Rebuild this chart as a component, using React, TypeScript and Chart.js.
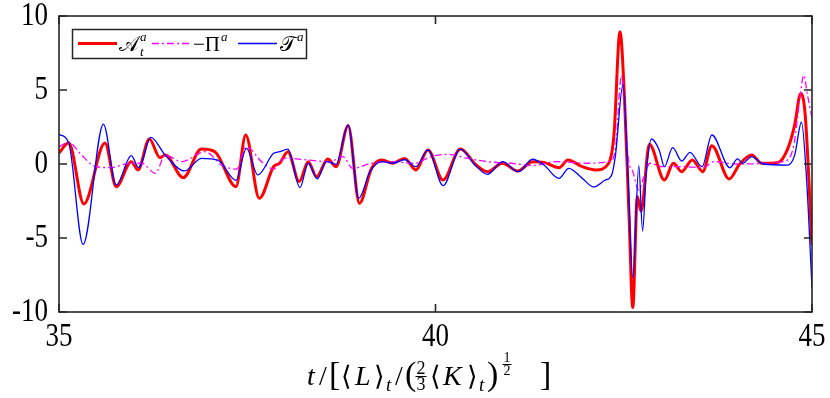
import React, { useEffect, useRef } from "react";
import { Chart, registerables } from "chart.js";
Chart.register(...registerables);

// ---- data ----
const xTicks = [35, 40, 45];
const yTicks = [-10, -5, 0, 5, 10];

const tA = [35.0, 35.13, 35.33, 35.61, 35.76, 35.96, 36.05, 36.2, 36.34, 36.41, 36.65, 36.89, 37.07, 37.35, 37.48, 37.66, 37.85, 37.93, 38.04, 38.19, 38.31, 38.42, 38.57, 38.68, 38.84, 38.99, 39.15, 39.29, 39.43, 39.59, 39.74, 39.9, 40.1, 40.33, 40.54, 40.69, 40.89, 41.09, 41.29, 41.44, 41.64, 41.76, 41.95, 42.13, 42.3, 42.37, 42.45, 42.51, 42.57, 42.62, 42.68, 42.73, 42.84, 43.04, 43.16, 43.27, 43.41, 43.55, 43.67, 43.9, 44.04, 44.2, 44.33, 44.55, 44.68, 44.77, 44.85, 44.91, 45.0];
const A = [0.74, 1.44, -2.7, 1.42, -1.53, 0.16, -0.4, 1.69, 0.43, 0.6, -0.92, 1.01, 0.83, -1.53, 1.96, -2.32, -0.18, 0.05, 0.83, -1.19, 0.16, -0.86, 0.34, -0.18, 2.59, -2.66, -0.3, 0.27, 0.05, 0.38, -0.4, 0.95, -1.08, 1.01, -0.07, -0.52, 0.05, -0.47, 0.16, 0.11, -0.25, 0.27, -0.18, -0.4, 0.05, 1.96, 8.94, 4.44, -3.45, -9.7, -2.2, -3.2, 1.33, -1.08, 0.05, -0.52, 0.27, -0.52, 1.24, -1.01, 0.0, 0.61, 0.05, 0.11, 1.06, 2.64, 4.77, 3.3, -5.47];

const tP = [35.0, 35.13, 35.28, 35.46, 35.68, 35.95, 36.1, 36.28, 36.41, 36.63, 36.94, 37.16, 37.36, 37.49, 37.69, 37.85, 38.0, 38.3, 38.6, 38.77, 38.9, 39.15, 39.4, 39.72, 39.94, 40.16, 40.43, 40.69, 41.0, 41.3, 41.6, 42.0, 42.32, 42.39, 42.47, 42.52, 42.56, 42.62, 42.7, 42.76, 42.85, 43.0, 43.3, 43.55, 43.7, 44.0, 44.61, 44.75, 44.84, 44.89, 44.94, 45.0];
const P = [1.17, 1.47, 0.72, -0.11, -0.25, 0.05, 0.05, -0.63, 0.6, 0.16, 0.83, -0.07, -0.34, 1.17, 0.16, -0.34, 0.4, 0.27, 0.16, 0.5, -0.3, 0.05, 0.16, 0.05, 0.5, 0.65, 0.38, 0.16, 0.05, -0.1, 0.16, 0.05, 0.2, 1.06, 5.97, 3.3, 0.38, -0.5, -1.76, -0.97, 0.05, -0.18, -0.18, -0.25, 0.16, 0.0, 0.16, 1.06, 4.44, 6.0, 4.66, 3.1];

const tT = [35.0, 35.13, 35.32, 35.59, 35.76, 35.96, 36.06, 36.22, 36.41, 36.67, 36.89, 37.11, 37.35, 37.49, 37.64, 37.85, 37.93, 38.04, 38.2, 38.31, 38.43, 38.55, 38.68, 38.84, 38.98, 39.13, 39.29, 39.43, 39.59, 39.74, 39.9, 40.1, 40.33, 40.54, 40.69, 40.89, 41.1, 41.29, 41.44, 41.64, 41.77, 41.95, 42.1, 42.25, 42.34, 42.39, 42.49, 42.55, 42.62, 42.7, 42.75, 42.8, 42.87, 42.97, 43.04, 43.15, 43.27, 43.38, 43.54, 43.67, 43.91, 44.01, 44.08, 44.2, 44.35, 44.68, 44.77, 44.86, 44.93, 45.0];
const T = [2.0, 1.4, -5.43, 2.7, -1.42, 0.56, -0.25, 1.8, 0.6, -0.47, 0.38, 0.27, -1.1, 1.06, -0.74, 0.72, 0.83, 1.01, -1.6, 0.05, -1.01, 0.16, -0.02, 2.64, -2.32, -0.52, 0.16, 0.05, 0.3, -0.18, 0.95, -1.46, 1.0, -0.15, -0.7, 0.16, -0.52, 0.32, -0.07, -0.97, -0.29, -0.97, -1.55, -1.1, -0.74, 0.6, 5.38, -0.07, -7.7, -0.11, -4.53, -0.5, 1.69, 0.95, -0.18, 1.1, 0.2, 0.79, -0.18, 1.96, -0.25, 0.34, 0.05, 0.5, 0.0, -0.07, 0.6, 2.82, -1.2, -8.4];

const seriesColors = ["#ff0000", "#ff00ff", "#0000ff"];

const SERIF = '"Liberation Serif", "Times New Roman", Tinos, "DejaVu Serif", serif';
const AXIS = "#262626";

function pts(xs: number[], ys: number[]) {
  return xs.map((x, i) => ({ x, y: ys[i] }));
}

function setFont(ctx: CanvasRenderingContext2D, size: number, italic?: boolean) {
  ctx.font = `${italic ? "italic " : ""}${size}px ${SERIF}`;
}

// text drawn slightly stretched vertically, like the reference's tall serif digits
function tallText(ctx: CanvasRenderingContext2D, text: string, x: number, y: number, size: number, align: CanvasTextAlign, baseline: CanvasTextBaseline) {
  ctx.save();
  ctx.translate(x, y);
  ctx.scale(0.9, 1.12);
  setFont(ctx, size);
  ctx.textAlign = align;
  ctx.textBaseline = baseline;
  ctx.fillText(text, 0, 0);
  ctx.restore();
}

type Run = { t?: string; frac?: [string, string]; size: number; it?: boolean; dy?: number; x: number };

const framePlugin = {
  id: "frame",
  afterDatasetsDraw(chart: any) {
    const { ctx, chartArea } = chart;
    const { left, right, top, bottom } = chartArea;
    const xs = chart.scales.x;
    const ys = chart.scales.y;
    ctx.save();
    ctx.strokeStyle = AXIS;
    ctx.lineWidth = 1.6;
    ctx.strokeRect(left, top, right - left, bottom - top);
    const tl = 8;
    ctx.beginPath();
    xTicks.forEach((v) => {
      const px = xs.getPixelForValue(v);
      ctx.moveTo(px, bottom);
      ctx.lineTo(px, bottom - tl);
      ctx.moveTo(px, top);
      ctx.lineTo(px, top + tl);
    });
    yTicks.forEach((v) => {
      const py = ys.getPixelForValue(v);
      ctx.moveTo(left, py);
      ctx.lineTo(left + tl, py);
      ctx.moveTo(right, py);
      ctx.lineTo(right - tl, py);
    });
    ctx.stroke();

    // tick labels
    ctx.fillStyle = "#000";
    yTicks.forEach((v) => {
      tallText(ctx, String(v), left - 11, ys.getPixelForValue(v), 30, "right", "middle");
    });
    xTicks.forEach((v) => {
      tallText(ctx, String(v), xs.getPixelForValue(v), bottom + 8, 30, "center", "top");
    });

    // legend
    const bx = 72, by = 29, bw = 234, bh = 29;
    ctx.fillStyle = "#fff";
    ctx.fillRect(bx, by, bw, bh);
    ctx.lineWidth = 1.5;
    ctx.strokeStyle = AXIS;
    ctx.strokeRect(bx + 0.5, by + 0.5, bw, bh);
    const ly = 43.5;
    ctx.lineWidth = 3;
    ctx.strokeStyle = seriesColors[0];
    ctx.beginPath(); ctx.moveTo(78, ly); ctx.lineTo(117, ly); ctx.stroke();
    ctx.lineWidth = 1.3;
    ctx.strokeStyle = seriesColors[1];
    ctx.setLineDash([7, 3, 2, 3]);
    ctx.beginPath(); ctx.moveTo(152, ly); ctx.lineTo(190, ly); ctx.stroke();
    ctx.setLineDash([]);
    ctx.strokeStyle = seriesColors[2];
    ctx.beginPath(); ctx.moveTo(238, ly); ctx.lineTo(277, ly); ctx.stroke();

    ctx.fillStyle = "#000";
    ctx.textAlign = "left";
    ctx.textBaseline = "alphabetic";
    const lb = 51;
    setFont(ctx, 21, false);
    ctx.fillText("𝒜", 119, lb);
    let w = ctx.measureText("𝒜").width;
    setFont(ctx, 13, true);
    ctx.fillText("a", 119 + w + 1, lb - 10);
    ctx.fillText("t", 119 + w + 1, lb + 5);

    setFont(ctx, 21, false);
    ctx.fillText("−Π", 193, lb);
    w = ctx.measureText("−Π").width;
    setFont(ctx, 13, true);
    ctx.fillText("a", 193 + w + 1, lb - 10);

    setFont(ctx, 21, false);
    ctx.fillText("𝒯", 280, lb);
    w = ctx.measureText("𝒯").width;
    setFont(ctx, 13, true);
    ctx.fillText("a", 280 + w + 1, lb - 10);

    // x axis title
    const base = 385;
    const runs: Run[] = [
      { t: "t", size: 28, it: true, x: 307 },
      { t: "/", size: 28, x: 319 },
      { t: "[", size: 34, x: 329 },
      { t: "⟨", size: 27, x: 341 },
      { t: "L", size: 28, it: true, x: 355 },
      { t: "⟩", size: 27, x: 374 },
      { t: "t", size: 19, it: true, dy: 6, x: 386 },
      { t: "/", size: 28, x: 395 },
      { t: "(", size: 34, x: 405 },
      { frac: ["2", "3"], size: 18, x: 421 },
      { t: "⟨", size: 27, x: 430 },
      { t: "K", size: 28, it: true, x: 443 },
      { t: "⟩", size: 27, x: 467 },
      { t: "t", size: 19, it: true, dy: 6, x: 479 },
      { t: ")", size: 34, x: 487 },
      { frac: ["1", "2"], size: 14, dy: -12, x: 507 },
      { t: "]", size: 34, x: 540 },
    ];
    ctx.fillStyle = "#000";
    ctx.strokeStyle = "#000";
    runs.forEach((r) => {
      const y = base + (r.dy || 0);
      if (r.frac) {
        setFont(ctx, r.size);
        const cy = y - 9;
        const fw = Math.max(ctx.measureText(r.frac[0]).width, ctx.measureText(r.frac[1]).width) + 2;
        ctx.textAlign = "center";
        ctx.fillText(r.frac[0], r.x, cy - 2);
        ctx.fillText(r.frac[1], r.x, cy + r.size * 0.7 + 1);
        ctx.lineWidth = 1;
        ctx.beginPath();
        ctx.moveTo(r.x - fw / 2, cy + 0.5);
        ctx.lineTo(r.x + fw / 2, cy + 0.5);
        ctx.stroke();
      } else {
        setFont(ctx, r.size, r.it);
        ctx.textAlign = "left";
        ctx.fillText(r.t || "", r.x, y);
      }
    });
    ctx.restore();
  },
};

export default function App() {
  const ref = useRef<HTMLCanvasElement>(null);
  useEffect(() => {
    document.body.style.margin = "0";
    const canvas = ref.current!;
    const common = { pointRadius: 0, fill: false, cubicInterpolationMode: "monotone" as const };
    const chart = new Chart(canvas, {
      type: "line",
      data: {
        datasets: [
          { ...common, label: "A", data: pts(tA, A), borderColor: seriesColors[0], borderWidth: 3, order: 3 },
          { ...common, label: "P", data: pts(tP, P), borderColor: seriesColors[1], borderWidth: 1.3, borderDash: [7, 3, 2, 3], order: 2 },
          { ...common, label: "T", data: pts(tT, T), borderColor: seriesColors[2], borderWidth: 1.3, order: 1 },
        ],
      },
      options: {
        responsive: false,
        animation: false,
        layout: { padding: { top: 16, right: 18, left: 0, bottom: 0 } },
        plugins: { legend: { display: false }, tooltip: { enabled: false } },
        scales: {
          x: {
            type: "linear",
            min: 35,
            max: 45,
            afterBuildTicks: (s: any) => { s.ticks = xTicks.map((v) => ({ value: v })); },
            afterFit: (s: any) => { s.height = 86; },
            grid: { display: false },
            border: { display: false },
            ticks: { display: false },
          },
          y: {
            min: -10,
            max: 10,
            afterBuildTicks: (s: any) => { s.ticks = yTicks.map((v) => ({ value: v })); },
            afterFit: (s: any) => { s.width = 59; },
            grid: { display: false },
            border: { display: false },
            ticks: { display: false },
          },
        },
      },
      plugins: [framePlugin],
    });
    return () => chart.destroy();
  }, []);
  return (
    <div style={{ width: 830, height: 398 }}>
      <canvas ref={ref} width={830} height={398} style={{ display: "block" }} />
    </div>
  );
}
